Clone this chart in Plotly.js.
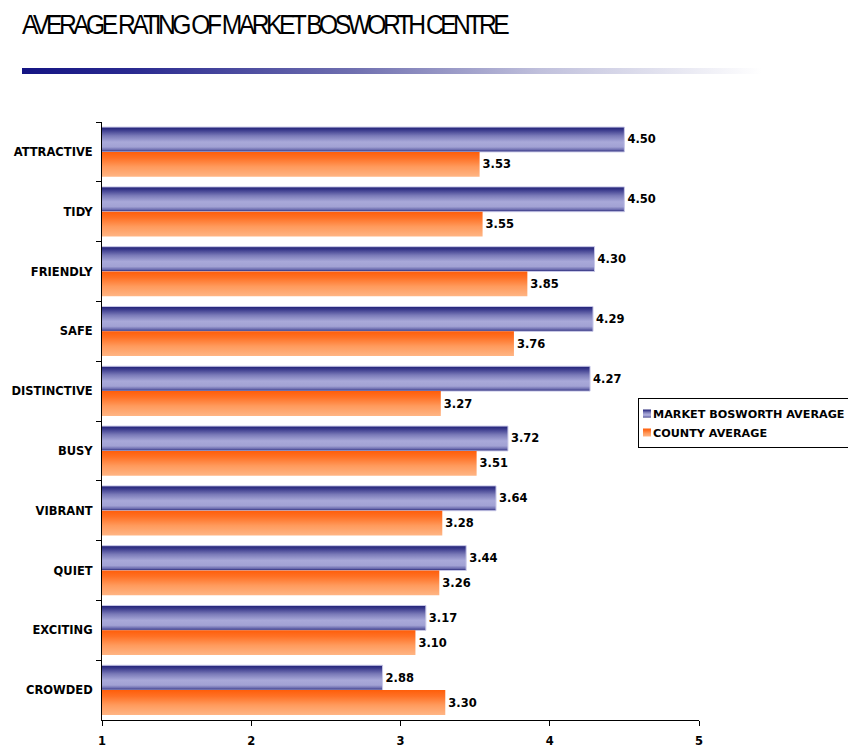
<!DOCTYPE html>
<html>
<head>
<meta charset="utf-8">
<script src="https://cdn.plot.ly/plotly-3.0.1.min.js"></script>
<style>
  html, body { margin: 0; padding: 0; background: #fff; overflow: hidden; }
  #wrap { position: relative; width: 848px; height: 749px; overflow: hidden; }
  #chart { width: 848px; height: 749px; }
  #rule { position: absolute; left: 22px; top: 68px; width: 740px; height: 6px;
          background: linear-gradient(to right, #141483 0%, #2a2a90 15%, #7070b0 45%, #c0c0dc 70%, #ffffff 100%); }
  .gtitle { letter-spacing: -4px; transform-box: fill-box; transform-origin: left center; transform: scaleX(0.88); }
</style>
</head>
<body>
<div id="wrap">
  <div id="chart"></div>
  <div id="rule"></div>
</div>
<script>
const categories = ["ATTRACTIVE", "TIDY", "FRIENDLY", "SAFE", "DISTINCTIVE", "BUSY", "VIBRANT", "QUIET", "EXCITING", "CROWDED"];
const marketBosworth = [4.50, 4.50, 4.30, 4.29, 4.27, 3.72, 3.64, 3.44, 3.17, 2.88];
const countyAverage = [3.53, 3.55, 3.85, 3.76, 3.27, 3.51, 3.28, 3.26, 3.10, 3.30];
const seriesNames = ["MARKET BOSWORTH AVERAGE", "COUNTY AVERAGE"];
const xTicks = [1, 2, 3, 4, 5];

const labelFont = { family: "DejaVu Sans", size: 11.5, color: "#000", weight: "bold" };

const traces = [
  {
    type: "bar", orientation: "h", name: seriesNames[0],
    y: categories, x: marketBosworth,
    marker: { color: "#8f8fcc", line: { color: "#c8c8e8", width: 1 } },
    text: marketBosworth.map(v => v.toFixed(2)), textposition: "outside",
    textfont: labelFont, cliponaxis: false, hoverinfo: "x+y"
  },
  {
    type: "bar", orientation: "h", name: seriesNames[1],
    y: categories, x: countyAverage,
    marker: { color: "#ff8a40", line: { width: 0 } },
    text: countyAverage.map(v => v.toFixed(2)), textposition: "outside",
    textfont: labelFont, cliponaxis: false, hoverinfo: "x+y"
  }
];

const layout = {
  width: 848, height: 749,
  margin: { l: 102, r: 149, t: 122, b: 29, autoexpand: false },
  paper_bgcolor: "#fff", plot_bgcolor: "#fff",
  title: {
    text: "AVERAGE RATING OF MARKET BOSWORTH CENTRE",
    font: { family: "Liberation Sans, Arial", size: 28, color: "#000" },
    x: 22 / 848, xanchor: "left", xref: "container", y: 1 - 24 / 749, yref: "container", yanchor: "middle"
  },
  barmode: "group", bargap: 0.17, bargroupgap: 0,
  showlegend: true,
  legend: {
    xref: "container", yref: "container",
    x: 638 / 848, xanchor: "left", y: 1 - 398 / 749, yanchor: "top",
    bordercolor: "#000", borderwidth: 1, bgcolor: "#fff",
    font: { family: "DejaVu Sans", size: 11.2, color: "#000", weight: "bold" },
    tracegroupgap: 0
  },
  xaxis: {
    range: [1, 5], tickvals: xTicks, ticktext: xTicks.map(String),
    showgrid: false, zeroline: false, showline: true, linecolor: "#000", linewidth: 1,
    ticks: "outside", ticklen: 5, tickcolor: "#000", ticklabelstandoff: 5,
    tickfont: { family: "DejaVu Sans", size: 11.5, color: "#000", weight: "bold" }
  },
  yaxis: {
    autorange: "reversed", type: "category",
    showgrid: false, zeroline: false, showline: true, linecolor: "#000", linewidth: 1,
    ticks: "outside", ticklen: 5, tickcolor: "#000", tickson: "boundaries",
    ticklabelstandoff: 6,
    tickfont: { family: "DejaVu Sans", size: 11.5, color: "#000", weight: "bold" }
  }
};

function applyGradients() {
  const gd = document.getElementById("chart");
  const svg = gd.querySelector("svg.main-svg");
  if (!svg) return;
  const ns = "http://www.w3.org/2000/svg";
  let defs = svg.querySelector("defs");
  if (!defs) { defs = document.createElementNS(ns, "defs"); svg.insertBefore(defs, svg.firstChild); }
  function grad(id, stops) {
    if (defs.querySelector("#" + id)) return;
    const g = document.createElementNS(ns, "linearGradient");
    g.setAttribute("id", id);
    g.setAttribute("x1", "0"); g.setAttribute("y1", "0");
    g.setAttribute("x2", "0"); g.setAttribute("y2", "1");
    stops.forEach(([o, c]) => {
      const s = document.createElementNS(ns, "stop");
      s.setAttribute("offset", o); s.setAttribute("stop-color", c);
      g.appendChild(s);
    });
    defs.appendChild(g);
  }
  grad("gradBlue", [[0, "#202075"], [0.12, "#3a3a8c"], [0.35, "#7a7ab8"], [0.6, "#a9a9d9"], [0.8, "#a2a2d4"], [0.92, "#6a6aad"], [1, "#1e1e70"]]);
  grad("gradOrange", [[0, "#ff5e0a"], [0.25, "#ff7125"], [0.6, "#ff9a5c"], [1, "#ffb584"]]);
  gd.querySelectorAll(".barlayer .trace").forEach((tg, i) => {
    const id = i === 0 ? "gradBlue" : "gradOrange";
    tg.querySelectorAll("path").forEach(p => { p.style.fill = "url(#" + id + ")"; });
  });
  // compact legend: small square swatch right next to the text
  gd.querySelectorAll(".legend .traces").forEach((lt, i) => {
    const id = i === 0 ? "gradBlue" : "gradOrange";
    lt.querySelectorAll(".legendpoints path").forEach(p => {
      p.setAttribute("d", "M4,4H-4V-4H4Z");
      p.style.fill = "url(#" + id + ")";
      p.style.strokeWidth = "0px";
    });
    const pts = lt.querySelector(".legendpoints");
    if (pts) pts.setAttribute("transform", "translate(-12,0)");
    const txt = lt.querySelector(".legendtext");
    if (txt) txt.setAttribute("x", "14");
  });
}

Plotly.newPlot("chart", traces, layout, { displayModeBar: false, staticPlot: true }).then(applyGradients);
</script>
</body>
</html>
